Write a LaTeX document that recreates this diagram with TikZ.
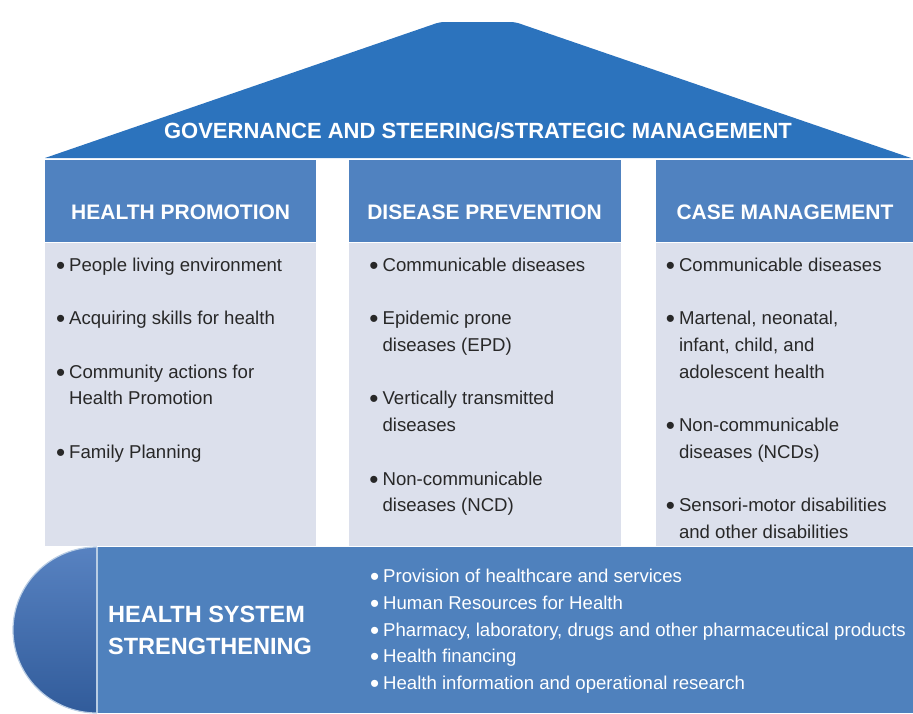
\documentclass[tikz,border=0pt]{standalone}
\usepackage{graphicx}
\usepackage{fontspec}
\setmainfont{Liberation Sans}
\usetikzlibrary{positioning}

\definecolor{roofblue}{RGB}{44,115,189}
\definecolor{headblue}{RGB}{80,130,192}
\definecolor{bodygray}{RGB}{220,224,236}
\definecolor{bandblue}{RGB}{79,129,189}
\definecolor{capblue}{RGB}{58,108,182}
\definecolor{textgray}{RGB}{40,40,40}

\tikzstyle{pillarhead} = [
    rectangle,
    fill = headblue,
    text = white,
    font = \fontsize{21pt}{25pt}\selectfont\bfseries,
    text height = 36pt,
    text depth = 0pt,
    inner sep = 0pt,
    minimum height = 82pt
]
\tikzstyle{pillarbody} = [
    rectangle,
    fill = bodygray,
    inner sep = 0pt,
    minimum height = 303pt
]
\tikzstyle{itemlist} = [
    align = left,
    inner sep = 0pt,
    text = textgray,
    font = \fontsize{18.6pt}{26.75pt}\selectfont
]

\newcommand{\itemdot}{\llap{\raisebox{-3pt}{\scalebox{1.4}{\textbullet}}\hspace{4pt}}}
\newcommand{\itemgap}{\\[26.75pt]}

\begin{document}
\begin{tikzpicture}[x=1pt, y=-1pt]

                \useasboundingbox (0,0) rectangle (913,713);

                % Roof
                \fill[roofblue] (45,158) [rounded corners=4pt] -- (440,22) -- (515,22) [sharp corners] -- (911,158) -- cycle;
                \node [anchor=base, text=white, font=\fontsize{22pt}{26pt}\selectfont\bfseries] (gov) at (478,138) {GOVERNANCE AND STEERING/STRATEGIC MANAGEMENT};

                % Health promotion
                \node [pillarhead, minimum width=271pt, anchor=north west] (hp) at (45,160) {HEALTH PROMOTION};
                \node [pillarbody, minimum width=271pt, below=0pt of hp] (hpBody) {};
                \node [itemlist, below right=15pt and 24pt of hpBody.north west] (hpItems) {
                    \itemdot People living environment\itemgap
                    \itemdot Acquiring skills for health\itemgap
                    \itemdot Community actions for\\ Health Promotion\itemgap
                    \itemdot Family Planning};

                % Disease prevention
                \node [pillarhead, minimum width=272pt, right=32pt of hp] (dp) {DISEASE PREVENTION};
                \node [pillarbody, minimum width=272pt, below=0pt of dp] (dpBody) {};
                \node [itemlist, below right=15pt and 34pt of dpBody.north west] (dpItems) {
                    \itemdot Communicable diseases\itemgap
                    \itemdot Epidemic prone\\ diseases (EPD)\itemgap
                    \itemdot Vertically transmitted\\ diseases\itemgap
                    \itemdot Non-communicable\\ diseases (NCD)};

                % Case management
                \node [pillarhead, minimum width=258pt, right=35pt of dp] (cm) {CASE MANAGEMENT};
                \node [pillarbody, minimum width=258pt, below=0pt of cm] (cmBody) {};
                \node [itemlist, below right=15pt and 23pt of cmBody.north west] (cmItems) {
                    \itemdot Communicable diseases\itemgap
                    \itemdot Martenal, neonatal,\\ infant, child, and\\ adolescent health\itemgap
                    \itemdot Non-communicable\\ diseases (NCDs)\itemgap
                    \itemdot Sensori-motor disabilities\\ and other disabilities};

                % Health system strengthening
                \node [rectangle, fill=bandblue, inner sep=0pt, minimum width=816pt, minimum height=166pt, anchor=north west] (hss) at (97,547) {};
                \shade [top color=capblue!85!white, bottom color=capblue!85!black] (hss.north west) arc [start angle=90, end angle=270, x radius=84pt, y radius=83pt] -- cycle;
                \draw [white!60!bandblue, line width=1.2pt] (hss.north west) arc [start angle=90, end angle=270, x radius=84pt, y radius=83pt];
                \draw [white!60!bandblue, line width=2pt] (hss.north west) -- (hss.south west);
                \node [align=left, inner sep=0pt, text=white, font=\fontsize{23.5pt}{32pt}\selectfont\bfseries, below right=59pt and 11pt of hss.north west] (hssTitle) {HEALTH SYSTEM\\STRENGTHENING};
                \node [itemlist, text=white, below right=22pt and 286pt of hss.north west] (hssItems) {
                    \itemdot Provision of healthcare and services\\
                    \itemdot Human Resources for Health\\
                    \itemdot Pharmacy, laboratory, drugs and other pharmaceutical products\\
                    \itemdot Health financing\\
                    \itemdot Health information and operational research};

            \end{tikzpicture}
\end{document}
